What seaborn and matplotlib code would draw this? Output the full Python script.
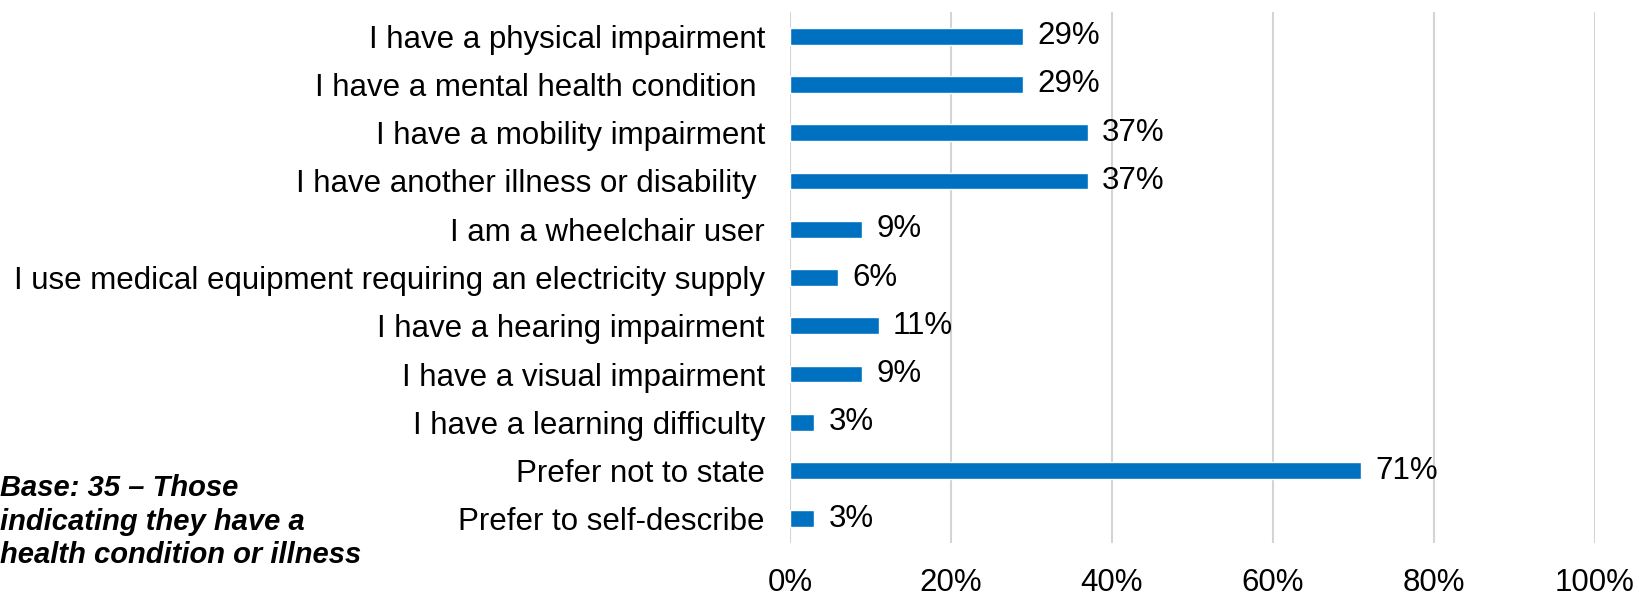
import matplotlib
matplotlib.use("Agg")
import matplotlib.pyplot as plt
import seaborn as sns
import pandas as pd

categories = [
    "I have a physical impairment",
    "I have a mental health condition ",
    "I have a mobility impairment",
    "I have another illness or disability ",
    "I am a wheelchair user",
    "I use medical equipment requiring an electricity supply",
    "I have a hearing impairment",
    "I have a visual impairment",
    "I have a learning difficulty",
    "Prefer not to state",
    "Prefer to self-describe",
]
values = [29, 29, 37, 37, 9, 6, 11, 9, 3, 71, 3]
x_ticks = [0, 20, 40, 60, 80, 100]
x_tick_labels = ["0%", "20%", "40%", "60%", "80%", "100%"]
base_note = "Base: 35 – Those\nindicating they have a\nhealth condition or illness"

sns.set_theme(style="white")
plt.rcParams["font.family"] = ["Liberation Sans", "DejaVu Sans"]

df = pd.DataFrame({"category": categories, "value": values})

fig = plt.figure(figsize=(16.39, 5.95), dpi=100)
ax = fig.add_axes([0.482, 0.0874, 0.491, 0.8924])

sns.barplot(data=df, y="category", x="value", orient="h", color="#0070C0",
            saturation=1, width=0.35, ax=ax, zorder=3)

ax.set_xlim(0, 100)
ax.set_xticks(x_ticks)
ax.set_xticklabels(x_tick_labels)
ax.set_xlabel("")
ax.set_ylabel("")
ax.xaxis.grid(True, color="#D4D4D4", linewidth=1.5, zorder=0)
ax.set_axisbelow(True)
for s in ax.spines.values():
    s.set_visible(False)
ax.tick_params(axis="both", length=0, labelsize=22.5, colors="black")
ax.tick_params(axis="y", pad=18)
ax.tick_params(axis="x", pad=18)

for i, v in enumerate(values):
    ax.text(v + 1.8, i, f"{v}%", va="center", ha="left", fontsize=22.5,
            color="black")

fig.text(0.0, 0.203, base_note, ha="left", va="top", fontsize=21,
         fontweight="bold", fontstyle="italic", linespacing=1.25,
         color="black")

fig.savefig("out.png", dpi=100)
